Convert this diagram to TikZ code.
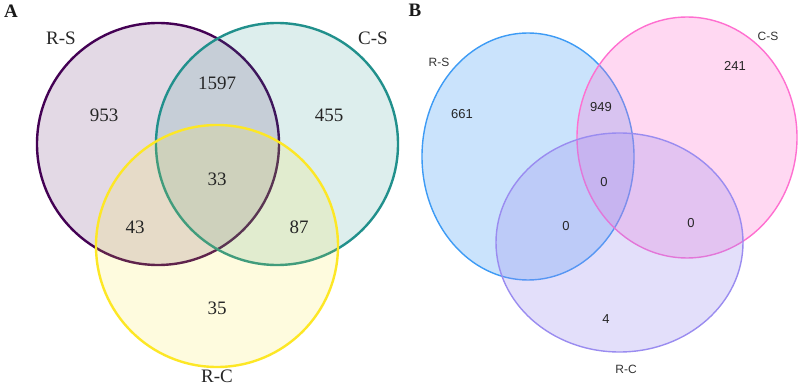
\documentclass[tikz,border=0pt]{standalone}
\usepackage{fontspec}
\setmainfont{Liberation Serif}
\newfontfamily\sansB{Liberation Sans}
\usetikzlibrary{positioning, shapes.geometric}

\definecolor{vPurple}{HTML}{440154}
\definecolor{vTeal}{HTML}{21908C}
\definecolor{vYellow}{HTML}{FDE725}
\definecolor{bBlue}{HTML}{3D9BF5}
\definecolor{bPink}{HTML}{FF6FD0}
\definecolor{bLav}{HTML}{9A8CF0}

\begin{document}
\begin{tikzpicture}[
    x=1pt, y=-1pt,
    setA/.style={circle, draw, line width=2.4pt, minimum size=242pt, inner sep=0pt, fill opacity=0.15},
    setB/.style={ellipse, draw, line width=1.4pt, inner sep=0pt, fill opacity=0.27},
    cntA/.style={font=\fontsize{19}{21}\selectfont, text=black!85},
    cntB/.style={font=\sansB\fontsize{13}{15}\selectfont, text=black!85},
    lblA/.style={cntA},
    lblB/.style={font=\sansB\fontsize{12}{14}\selectfont, text=black!80},
    panel/.style={font=\fontsize{19}{21}\selectfont\bfseries, text=black!90}]

  \useasboundingbox[fill=white] (0,0) rectangle (798,387);

  % panel A
  \node[setA, draw=vPurple, fill=vPurple] (aRS) at (158,144) {};
  \node[setA, draw=vTeal, fill=vTeal]     (aCS) at (277,144) {};
  \node[setA, draw=vYellow, fill=vYellow] (aRC) at (217,246) {};

  \node[panel] (pA) at (11,11) {A};
  \node[lblA] (lRS) at (61,38)  {R-S};
  \node[lblA] (lCS) at (373,38) {C-S};
  \node[lblA] (lRC) at (217,376) {R-C};

  \node[cntA] (n953)  at (104,115) {953};
  \node[cntA] (n1597) at (217,83)  {1597};
  \node[cntA] (n455)  at (329,115) {455};
  \node[cntA] (n33)   at (217,179) {33};
  \node[cntA] (n43)   at (135,227) {43};
  \node[cntA] (n87)   at (299,227) {87};
  \node[cntA] (n35)   at (217,308) {35};

  % panel B
  \node[setB, draw=bBlue, fill=bBlue, minimum width=212pt, minimum height=247pt] (bRS) at (528,156.5) {};
  \node[setB, draw=bPink, fill=bPink, minimum width=220pt, minimum height=241pt] (bCS) at (687,137.5) {};
  \node[setB, draw=bLav, fill=bLav, minimum width=247pt, minimum height=219pt]   (bRC) at (619.5,242.5) {};

  \node[panel] (pB) at (415,10) {B};
  \node[lblB] (mRS) at (439,62)  {R-S};
  \node[lblB] (mCS) at (768,36)  {C-S};
  \node[lblB] (mRC) at (626,369) {R-C};

  \node[cntB] (m661) at (462,114) {661};
  \node[cntB] (m949) at (601,107) {949};
  \node[cntB] (m241) at (735,66)  {241};
  \node[cntB] (m0c)  at (604,182) {0};
  \node[cntB] (m0l)  at (566,226) {0};
  \node[cntB] (m0r)  at (691,223) {0};
  \node[cntB] (m4)   at (606,319) {4};
\end{tikzpicture}
\end{document}
